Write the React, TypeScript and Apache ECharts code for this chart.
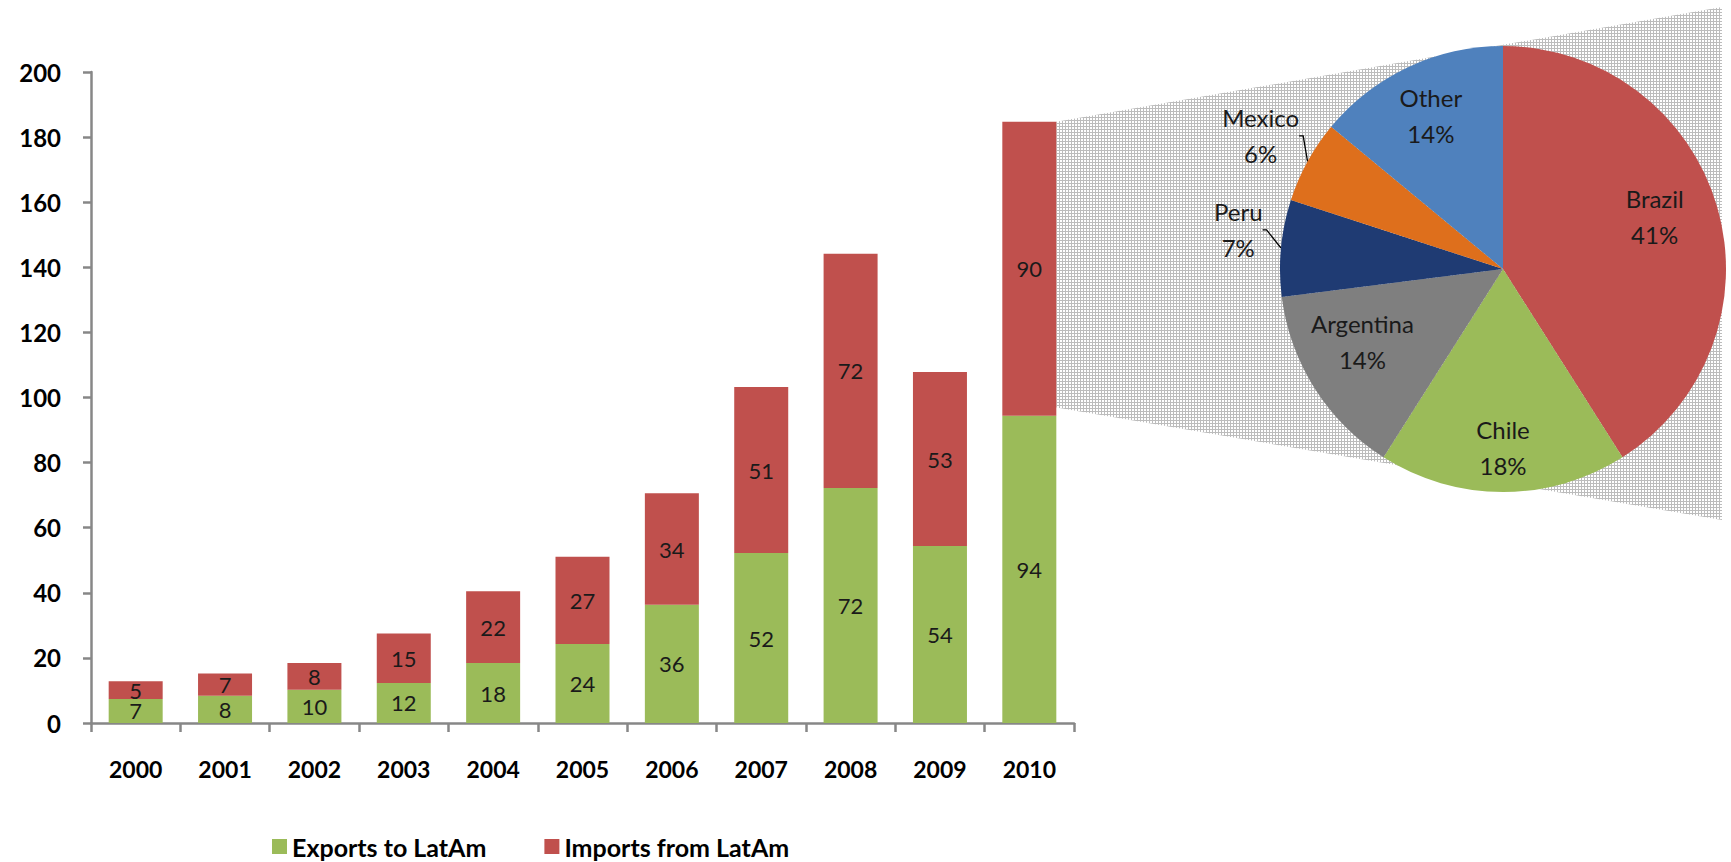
import React, { useEffect, useRef } from "react";
import * as echarts from "echarts";

const years = ["2000", "2001", "2002", "2003", "2004", "2005", "2006", "2007", "2008", "2009", "2010"];
const exportsToLatAm = [7.4, 8.4, 10.2, 12.3, 18.4, 24.3, 36.3, 52.2, 72.2, 54.4, 94.4];
const importsFromLatAm = [5.4, 6.8, 8.2, 15.2, 22.1, 26.8, 34.3, 51.0, 72.0, 53.4, 90.3];
const seriesNames = ["Exports to LatAm", "Imports from LatAm"];

const countries = ["Brazil", "Chile", "Argentina", "Peru", "Mexico", "Other"];
const countryShares = [41, 18, 14, 7, 6, 14];

// styles / layout (not data)
const barColors = ["#9BBB59", "#C0504D"];
const pieColors = ["#C0504D", "#9BBB59", "#7F7F7F", "#1F3B73", "#DE6F1C", "#4F81BD"];
const labelOutside = [false, false, false, true, true, false];
const labelRadial = [0.72, 0.8, 0.71, 1.2, 1.24, 0.76];
const labelAngleShift = [-3, 0, 5, 3, 0, 0];
const PIE_CENTER = [1503, 269];
const PIE_R = 223;
const BAR_W = 54;
const FONT = "Lato, 'Noto Sans', sans-serif";

const hatchSvg =
  "<svg xmlns='http://www.w3.org/2000/svg' width='3' height='3'>" +
  "<rect width='3' height='3' fill='#ffffff'/>" +
  "<rect width='3' height='1' fill='#bcbcbc'/>" +
  "<rect width='1' height='3' fill='#bcbcbc'/></svg>";
const hatchUrl = "data:image/svg+xml;charset=utf-8," + encodeURIComponent(hatchSvg);

export default function App() {
  const ref = useRef<HTMLDivElement>(null);

  useEffect(() => {
    document.body.style.margin = "0";
    const el = ref.current!;
    const chart = echarts.init(el, null, { renderer: "svg" });

    const total = countryShares.reduce((a, b) => a + b, 0);
    const midAngles: number[] = [];
    let acc = 0;
    countryShares.forEach((v) => {
      midAngles.push(((acc + v / 2) / total) * Math.PI * 2);
      acc += v;
    });

    const barLabel = {
      show: true,
      position: "inside",
      formatter: (p: any) => String(Math.round(p.value)),
      fontFamily: FONT,
      fontSize: 22,
      color: "#1a1a1a",
    };

    const option: any = {
      animation: false,
      textStyle: { fontFamily: FONT },
      grid: { left: 91, right: 657, top: 72, bottom: 139, outerBoundsMode: "none", containLabel: false },
      legend: {
        data: seriesNames,
        left: 272,
        top: 834,
        padding: 0,
        itemWidth: 15,
        itemHeight: 15,
        itemGap: 58,
        icon: "rect",
        textStyle: {
          fontFamily: FONT,
          fontWeight: "bold",
          fontSize: 25,
          lineHeight: 25,
          color: "#000",
          padding: [0, 0, 0, 0],
        },
      },
      xAxis: {
        type: "category",
        data: years,
        axisLine: { show: true, lineStyle: { color: "#878787", width: 2.5 } },
        axisTick: { show: true, alignWithLabel: false, length: 9, lineStyle: { color: "#878787", width: 2.5 } },
        axisLabel: { margin: 34, fontFamily: FONT, fontWeight: "bold", fontSize: 23, color: "#000" },
      },
      yAxis: {
        type: "value",
        min: 0,
        max: 200,
        interval: 20,
        axisLine: { show: true, lineStyle: { color: "#878787", width: 2.5 } },
        axisTick: { show: true, length: 8, lineStyle: { color: "#878787", width: 2.5 } },
        splitLine: { show: false },
        axisLabel: { margin: 30, fontFamily: FONT, fontWeight: "bold", fontSize: 24, color: "#000" },
      },
      series: [
        {
          name: seriesNames[0],
          type: "bar",
          stack: "total",
          data: exportsToLatAm,
          barWidth: BAR_W,
          itemStyle: { color: barColors[0] },
          label: barLabel,
        },
        {
          name: seriesNames[1],
          type: "bar",
          stack: "total",
          data: importsFromLatAm,
          barWidth: BAR_W,
          itemStyle: { color: barColors[1] },
          label: barLabel,
        },
        {
          name: "LatAm share",
          type: "pie",
          z: 5,
          center: PIE_CENTER,
          radius: PIE_R,
          startAngle: 90,
          clockwise: true,
          avoidLabelOverlap: false,
          emphasis: { disabled: true },
          data: countries.map((name, i) => ({
            name,
            value: countryShares[i],
            itemStyle: { color: pieColors[i] },
            label: { position: labelOutside[i] ? "outside" : "inside" },
            labelLine: { show: labelOutside[i] },
          })),
          label: {
            show: true,
            formatter: "{b}\n{d}%",
            fontFamily: FONT,
            fontSize: 24,
            lineHeight: 36,
            color: "#1a1a1a",
            align: "center",
          },
          labelLine: { show: false, length: 6, length2: 4, smooth: false, lineStyle: { color: "#000", width: 1.3 } },
          labelLayout: (p: any) => {
            const i = p.dataIndex;
            const a = midAngles[i] + (labelAngleShift[i] * Math.PI) / 180;
            const rr = PIE_R * labelRadial[i];
            return {
              x: PIE_CENTER[0] + rr * Math.sin(a),
              y: PIE_CENTER[1] - rr * Math.cos(a),
              align: "center",
              verticalAlign: "middle",
            };
          },
        },
      ],
    };

    chart.setOption(option);

    const last = years.length - 1;
    const cx = chart.convertToPixel({ xAxisIndex: 0 }, years[last]) as number;
    const yTop = chart.convertToPixel({ yAxisIndex: 0 }, exportsToLatAm[last] + importsFromLatAm[last]) as number;
    const yBot = chart.convertToPixel({ yAxisIndex: 0 }, exportsToLatAm[last] + 2.5) as number;
    const xL = cx + BAR_W / 2;

    chart.setOption({
      graphic: [
        {
          type: "polygon",
          z: 1,
          silent: true,
          shape: {
            points: [
              [xL, yTop],
              [1722, 7],
              [1722, 520],
              [xL, yBot],
            ],
          },
          style: {
            fill: { image: hatchUrl, repeat: "repeat", imageWidth: 3, imageHeight: 3 },
          },
        },
      ],
    });

    return () => chart.dispose();
  }, []);

  return <div ref={ref} style={{ width: 1731, height: 862 }} />;
}
